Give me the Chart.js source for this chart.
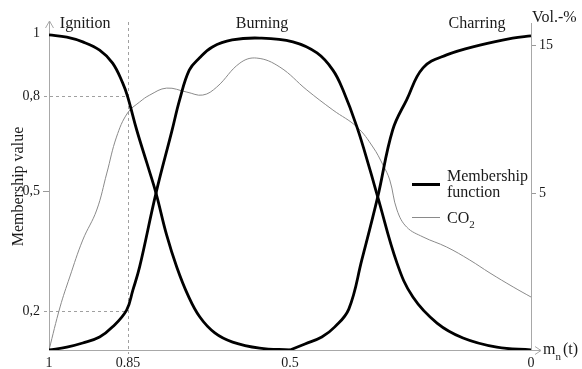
<!DOCTYPE html>
<html>
<head>
<meta charset="utf-8">
<script src="https://cdn.jsdelivr.net/npm/chart.js@4"></script>
<style>
  html, body { margin: 0; padding: 0; background: #fff; }
  #wrap { width: 582px; height: 369px; }
</style>
</head>
<body>
<div id="wrap"><canvas id="chart"></canvas></div>
<script>
// x = m_n(t), running from 1 (left) to 0 (right)
const ignitionX = [1.0, 0.963, 0.930, 0.895, 0.868, 0.847, 0.837, 0.818, 0.797, 0.778, 0.756, 0.735, 0.712, 0.687, 0.656, 0.619, 0.563, 0.500];
const ignitionY = [0.994, 0.987, 0.972, 0.946, 0.905, 0.842, 0.800, 0.694, 0.590, 0.495, 0.363, 0.262, 0.174, 0.104, 0.054, 0.025, 0.006, 0];

const burningX = [1.0, 0.963, 0.930, 0.895, 0.868, 0.839, 0.826, 0.812, 0.778, 0.745, 0.729, 0.709, 0.688, 0.661, 0.620, 0.563, 0.494, 0.444, 0.411, 0.390, 0.361, 0.334, 0.318, 0.278, 0.245, 0.195, 0.141, 0.071, 0];
const burningY = [0, 0.009, 0.022, 0.041, 0.073, 0.126, 0.189, 0.262, 0.495, 0.691, 0.789, 0.883, 0.921, 0.956, 0.978, 0.984, 0.972, 0.937, 0.883, 0.820, 0.703, 0.568, 0.483, 0.274, 0.167, 0.085, 0.038, 0.009, 0];

const charringX = [0.500, 0.469, 0.434, 0.407, 0.378, 0.351, 0.318, 0.287, 0.258, 0.224, 0.175, 0.106, 0.038, 0];
const charringY = [0, 0.019, 0.041, 0.073, 0.129, 0.284, 0.483, 0.694, 0.789, 0.890, 0.931, 0.962, 0.984, 0.991];

// CO2 in Vol.-% (right axis)
const co2X = [1.0, 0.977, 0.957, 0.930, 0.901, 0.880, 0.860, 0.837, 0.812, 0.791, 0.756, 0.714, 0.681, 0.652, 0.604, 0.569, 0.521, 0.465, 0.411, 0.361, 0.328, 0.307, 0.293, 0.278, 0.258, 0.224, 0.175, 0.127, 0.085, 0.037, 0];
const co2Y = [-5.61, -2.70, -0.68, 1.82, 3.85, 6.35, 8.78, 10.41, 11.15, 11.62, 12.09, 11.82, 11.62, 12.16, 13.78, 14.12, 13.51, 11.96, 10.61, 9.46, 8.11, 6.89, 5.88, 3.85, 2.70, 2.03, 1.35, 0.47, -0.41, -1.35, -2.03];

// ticks as placed on the (schematic) axes
const xTickValues = [1, 0.836, 0.5, 0];
const xTickLabels = ['1', '0.85', '0.5', '0'];
const yTickValues = [0.123, 0.5, 0.8, 1];
const yTickLabels = ['0,2', '0,5', '0,8', '1'];
const y2TickValues = [5, 15];
const y2TickLabels = ['5', '15'];

const phaseLabels = ['Ignition', 'Burning', 'Charring'];
const dashX = 0.836;
const dashLevels = [0.8, 0.123];

const SERIF = '"Liberation Serif", "Times New Roman", serif';
const TEXT = '#1a1a1a';
const AXIS = '#a8a8a8';

Chart.defaults.font.family = SERIF;
Chart.defaults.color = TEXT;

function pts(xs, ys) {
  return xs.map((x, i) => ({ x: x, y: ys[i] }));
}

const decorations = {
  id: 'decorations',
  beforeDatasetsDraw(chart) {
    const { ctx, chartArea, scales } = chart;
    const dx = Math.round(scales.x.getPixelForValue(dashX)) + 0.5;
    ctx.save();
    ctx.strokeStyle = '#a0a0a0';
    ctx.lineWidth = 1;
    ctx.setLineDash([3, 3]);
    ctx.beginPath();
    ctx.moveTo(dx, chartArea.top - 1);
    ctx.lineTo(dx, chartArea.bottom + 4);
    dashLevels.forEach(v => {
      const py = Math.round(scales.y.getPixelForValue(v)) + 0.5;
      ctx.moveTo(chartArea.left - 5, py);
      ctx.lineTo(dx, py);
    });
    ctx.stroke();
    ctx.restore();
  },
  afterDraw(chart) {
    const { ctx, chartArea, scales } = chart;
    const L = Math.round(chartArea.left) + 0.5;
    const B = Math.round(chartArea.bottom) + 0.5;
    const R = Math.round(chartArea.right);
    ctx.save();

    // axis arrows
    ctx.strokeStyle = AXIS;
    ctx.lineWidth = 1;
    ctx.beginPath();
    ctx.moveTo(L, chartArea.top);
    ctx.lineTo(L, chartArea.top - 2);
    ctx.moveTo(L - 4, chartArea.top + 5);
    ctx.lineTo(L, chartArea.top - 2);
    ctx.lineTo(L + 4, chartArea.top + 5);
    ctx.moveTo(R, B);
    ctx.lineTo(R + 10, B);
    ctx.moveTo(R + 4, B - 4);
    ctx.lineTo(R + 10, B);
    ctx.lineTo(R + 4, B + 4);
    ctx.stroke();

    // phase names
    ctx.fillStyle = TEXT;
    ctx.font = '16px ' + SERIF;
    ctx.textAlign = 'center';
    ctx.textBaseline = 'alphabetic';
    const phaseX = [0.925, 0.558, 0.112];
    phaseLabels.forEach((t, i) => {
      ctx.fillText(t, scales.x.getPixelForValue(phaseX[i]), 28);
    });

    // right axis unit and x axis name
    ctx.textAlign = 'left';
    ctx.fillText('Vol.-%', R + 1, 22);
    ctx.fillText('m', R + 12, 354);
    let w = ctx.measureText('m').width;
    ctx.font = '11px ' + SERIF;
    ctx.fillText('n', R + 12 + w, 360);
    const wn = ctx.measureText('n').width;
    ctx.font = '16px ' + SERIF;
    ctx.fillText('(t)', R + 14 + w + wn, 354);

    // legend
    const ds = chart.data.datasets;
    ctx.lineCap = 'butt';
    ctx.strokeStyle = ds[0].borderColor;
    ctx.lineWidth = 3;
    ctx.beginPath();
    ctx.moveTo(412, 184.5);
    ctx.lineTo(440, 184.5);
    ctx.stroke();
    ctx.strokeStyle = ds[3].borderColor;
    ctx.lineWidth = 1;
    ctx.beginPath();
    ctx.moveTo(412, 217.5);
    ctx.lineTo(440, 217.5);
    ctx.stroke();
    ctx.fillStyle = TEXT;
    const memb = ds[0].label.split(' ');
    ctx.fillText(memb[0], 447, 181);
    ctx.fillText(memb[1], 447, 197);
    ctx.fillText('CO', 447, 223);
    w = ctx.measureText('CO').width;
    ctx.font = '11px ' + SERIF;
    ctx.fillText(ds[3].label.slice(2), 447 + w, 228);
    ctx.restore();
  }
};

new Chart(document.getElementById('chart'), {
  type: 'line',
  data: {
    datasets: [
      { label: 'Membership function', data: pts(ignitionX, ignitionY), borderColor: '#000', borderWidth: 2.8, yAxisID: 'y' },
      { label: 'Burning', data: pts(burningX, burningY), borderColor: '#000', borderWidth: 2.8, yAxisID: 'y' },
      { label: 'Charring', data: pts(charringX, charringY), borderColor: '#000', borderWidth: 2.8, yAxisID: 'y' },
      { label: 'CO2', data: pts(co2X, co2Y), borderColor: '#8a8a8a', borderWidth: 1, yAxisID: 'y2' }
    ]
  },
  options: {
    responsive: true,
    maintainAspectRatio: false,
    animation: false,
    layout: { padding: { top: 23, left: 0, right: 0, bottom: 0 } },
    elements: {
      point: { radius: 0 },
      line: { tension: 0.4, fill: false, capBezierPoints: true }
    },
    plugins: {
      legend: { display: false },
      tooltip: { enabled: false }
    },
    scales: {
      x: {
        type: 'linear',
        reverse: true,
        min: 0,
        max: 1,
        afterBuildTicks: s => { s.ticks = xTickValues.map(v => ({ value: v })); },
        afterFit: s => { s.height = 19; },
        ticks: {
          autoSkip: false,
          maxRotation: 0,
          padding: 5,
          font: { size: 14 },
          callback: v => xTickLabels[xTickValues.indexOf(v)]
        },
        grid: { drawOnChartArea: false, drawTicks: false },
        border: { color: AXIS }
      },
      y: {
        type: 'linear',
        position: 'left',
        min: 0,
        max: 1.0315,
        afterBuildTicks: s => { s.ticks = yTickValues.map(v => ({ value: v })); },
        afterFit: s => { s.width = 49; },
        ticks: {
          padding: 3,
          font: { size: 14 },
          callback: v => yTickLabels[yTickValues.indexOf(v)]
        },
        grid: {
          drawOnChartArea: false,
          tickLength: 6,
          tickColor: c => (c.tick && c.tick.value === 0.5 ? '#999' : 'rgba(0,0,0,0)')
        },
        border: { color: AXIS },
        title: {
          display: true,
          text: 'Membership value',
          font: { size: 16 },
          padding: { top: 9, bottom: 0 }
        }
      },
      y2: {
        type: 'linear',
        position: 'right',
        min: -5.61,
        max: 16.49,
        afterBuildTicks: s => { s.ticks = y2TickValues.map(v => ({ value: v })); },
        afterFit: s => { s.width = 51; },
        ticks: {
          padding: 3,
          font: { size: 14 },
          callback: v => y2TickLabels[y2TickValues.indexOf(v)]
        },
        grid: { drawOnChartArea: false, tickLength: 5, tickColor: '#999' },
        border: { color: AXIS }
      }
    }
  },
  plugins: [decorations]
});
</script>
</body>
</html>
